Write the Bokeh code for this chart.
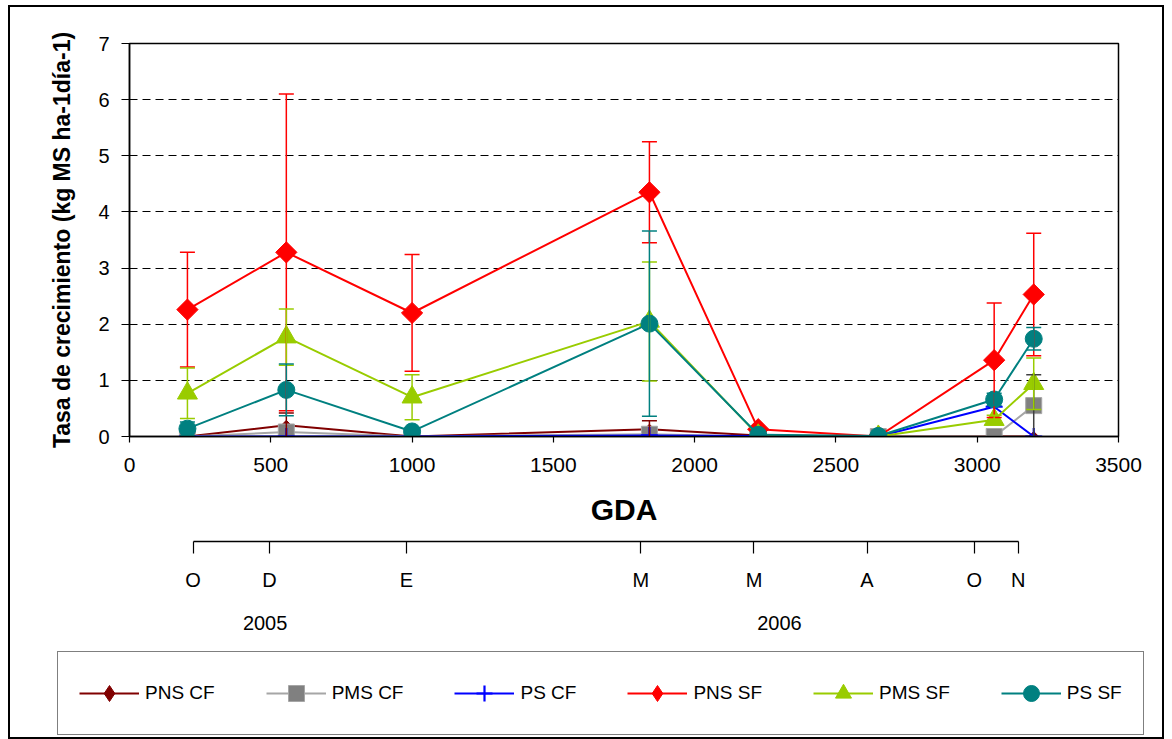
import numpy as np
from bokeh.plotting import figure
from bokeh.layouts import column
from bokeh.models import (Range1d, FixedTicker, LinearAxis, Legend, LegendItem,
                          Whisker, TeeHead, ColumnDataSource)
from bokeh.embed import file_html
from bokeh.resources import INLINE

# ---------------- data ----------------
gda = [205, 555, 1000, 1840, 2225, 2650, 3060, 3200]

pns_cf = [0.00, 0.20, 0.00, 0.13, 0.02, 0.00, 0.00, 0.00]
pns_cf_err = [0.00, 0.22, 0.00, 0.15, 0.00, 0.00, 0.00, 0.00]
pms_cf = [0.00, 0.08, 0.00, 0.04, 0.00, 0.00, 0.00, 0.55]
pms_cf_err = [0.00, 0.00, 0.00, 0.00, 0.00, 0.00, 0.00, 0.55]
ps_cf = [0.00, 0.00, 0.00, 0.02, 0.01, 0.00, 0.53, 0.00]
ps_cf_err = [0.00, 0.00, 0.00, 0.00, 0.00, 0.00, 0.00, 0.00]
pns_sf = [2.26, 3.28, 2.20, 4.35, 0.13, 0.00, 1.36, 2.53]
pns_sf_err = [1.02, 2.82, 1.04, 0.90, 0.00, 0.00, 1.02, 1.09]
pms_sf = [0.77, 1.77, 0.70, 2.05, 0.02, 0.00, 0.30, 0.94]
pms_sf_err = [0.45, 0.50, 0.40, 1.06, 0.00, 0.00, 0.08, 0.46]
ps_sf = [0.14, 0.83, 0.09, 2.01, 0.03, 0.01, 0.66, 1.74]
ps_sf_err = [0.12, 0.46, 0.05, 1.65, 0.00, 0.00, 0.11, 0.20]

x_ticks = [0, 500, 1000, 1500, 2000, 2500, 3000, 3500]
y_ticks = [0, 1, 2, 3, 4, 5, 6, 7]

month_gda = [225, 495, 980, 1810, 2210, 2610, 2990, 3145]
month_labels = ["O", "D", "E", "M", "M", "A", "O", "N"]
year_gda = [480, 2300]
year_labels = ["2005", "2006"]

FONT = "Liberation Sans"
W = 1152
ML, MR = 119, 44

xr = Range1d(0, 3500)

# ---------------- main plot ----------------
p = figure(width=W, height=523, output_backend="svg", toolbar_location=None,
           x_range=xr, y_range=Range1d(0, 7),
           min_border_left=ML, min_border_right=MR, min_border_top=36,
           min_border_bottom=94, background_fill_color="white",
           border_fill_color="white")
p.outline_line_color = "black"
p.outline_line_width = 1.5

p.xaxis.ticker = FixedTicker(ticks=x_ticks)
p.yaxis.ticker = FixedTicker(ticks=y_ticks)
for ax in (p.xaxis[0], p.yaxis[0]):
    ax.axis_line_color = "black"
    ax.axis_line_width = 1.5
    ax.major_tick_line_color = "black"
    ax.major_tick_line_width = 1.2
    ax.major_tick_in = 0
    ax.minor_tick_line_color = None
    ax.major_label_text_font = FONT
    ax.major_label_text_color = "black"
    ax.axis_label_text_font = FONT
    ax.axis_label_text_font_style = "bold"
    ax.axis_label_text_color = "black"
p.xaxis.major_label_text_font_size = "21px"
p.yaxis.major_label_text_font_size = "20px"
p.xaxis.major_tick_out = 6
p.xaxis.major_label_standoff = 15
p.xaxis.axis_label = "GDA"
p.xaxis.axis_label_text_font_size = "30px"
p.xaxis.axis_label_standoff = 18
p.yaxis.major_tick_out = 8
p.yaxis.major_label_standoff = 12
p.yaxis.axis_label = "Tasa de crecimiento (kg MS ha-1día-1)"
p.yaxis.axis_label_text_font_size = "23px"
p.yaxis.axis_label_standoff = 20

p.xgrid.grid_line_color = None
p.ygrid.grid_line_color = "black"
p.ygrid.grid_line_dash = "8 5"
p.ygrid.grid_line_width = 1

# name, values, errors, line colour, marker fill, marker line, marker, size, angle, legend marker
series = [
    ("PNS CF", pns_cf, pns_cf_err, "#800000", "#800000", "#800000", "square", 7, np.pi / 4, "diamond"),
    ("PMS CF", pms_cf, pms_cf_err, "#A6A6A6", "#808080", "#A6A6A6", "square", 16, 0, "square"),
    ("PS CF", ps_cf, ps_cf_err, "#0000FF", None, "#0000FF", "cross", 17, 0, "cross"),
    ("PNS SF", pns_sf, pns_sf_err, "#FF0000", "#FF0000", "#FF0000", "square", 15, np.pi / 4, "diamond"),
    ("PMS SF", pms_sf, pms_sf_err, "#99CC00", "#99CC00", "#99CC00", "triangle", 20, 0, "triangle"),
    ("PS SF", ps_sf, ps_sf_err, "#008080", "#008080", "#008080", "circle", 17, 0, "circle"),
]

# ---------------- month / year axis strip ----------------
pm = figure(width=W, height=104, output_backend="svg", toolbar_location=None,
            x_range=xr, y_range=Range1d(0, 1), y_axis_location=None,
            min_border_left=ML, min_border_right=MR, min_border_top=0,
            min_border_bottom=93, background_fill_color=None,
            border_fill_color="white")
pm.outline_line_color = None
pm.grid.grid_line_color = None
mx = pm.xaxis[0]
mx.ticker = FixedTicker(ticks=month_gda)
mx.major_label_overrides = {m: l for m, l in zip(month_gda, month_labels)}
mx.bounds = (month_gda[0], month_gda[-1])
mx.axis_line_color = "black"
mx.axis_line_width = 1.5
mx.major_tick_out = 12
mx.major_tick_in = 0
mx.major_tick_line_width = 1.2
mx.minor_tick_line_color = None
mx.major_label_standoff = 15
mx.major_label_text_font = FONT
mx.major_label_text_font_size = "20px"
mx.major_label_text_color = "black"

year_axis = LinearAxis(ticker=FixedTicker(ticks=year_gda),
                       major_label_overrides={m: l for m, l in zip(year_gda, year_labels)},
                       axis_line_color=None, major_tick_out=0, major_tick_in=0,
                       major_tick_line_color=None, minor_tick_line_color=None,
                       major_label_standoff=22, major_label_text_font=FONT,
                       major_label_text_font_size="20px", major_label_text_color="black")
pm.add_layout(year_axis, "below")

# ---------------- legend strip (its frame fills the strip; data lie out of view) ----------------
pl = figure(width=W, height=103, output_backend="svg", toolbar_location=None,
            x_range=Range1d(-20000, -10000), y_range=Range1d(-20, -10),
            x_axis_location=None, y_axis_location=None,
            min_border=0, min_border_left=0, min_border_right=0,
            min_border_top=0, min_border_bottom=0,
            background_fill_color="white", border_fill_color="white")
pl.frame_align = False
pl.outline_line_color = None
pl.grid.grid_line_color = None

items = []
for name, vals, errs, lcol, mfill, mline, marker, size, angle, lmarker in series:
    xs = [x for x, e in zip(gda, errs) if e > 0]
    ys = [v for v, e in zip(vals, errs) if e > 0]
    es = [e for e in errs if e > 0]
    ecol = lcol if name != "PMS CF" else "#404040"
    if xs:
        wsrc = ColumnDataSource(dict(x=xs, upper=[y + e for y, e in zip(ys, es)],
                                     lower=[y - e for y, e in zip(ys, es)]))
        w = Whisker(source=wsrc, base="x", upper="upper", lower="lower",
                    line_color=ecol, line_width=1.5,
                    upper_head=TeeHead(size=15, line_color=ecol, line_width=1.5),
                    lower_head=TeeHead(size=15, line_color=ecol, line_width=1.5),
                    level="glyph")
        p.add_layout(w)
    src = ColumnDataSource(dict(x=gda, y=vals))
    p.line("x", "y", source=src, line_color=lcol, line_width=2)
    p.scatter("x", "y", source=src, marker=marker, size=size, angle=angle,
              fill_color=mfill, line_color=mline,
              line_width=2.2 if marker == "cross" else 1)
    # legend samples: same series and styles, drawn in a strip whose ranges hide them
    lr = pl.line("x", "y", source=src, line_color=lcol, line_width=2)
    sr = pl.scatter("x", "y", source=src, marker=lmarker, size=size,
                    fill_color=mfill, line_color=mline,
                    line_width=2.2 if marker == "cross" else 1)
    items.append(LegendItem(label=name, renderers=[lr, sr]))

legend = Legend(items=items, orientation="horizontal", location=(47, 2),
                glyph_width=60, glyph_height=40, label_standoff=6, spacing=51,
                padding=21, margin=0, border_line_color="black", border_line_width=1,
                label_text_font=FONT, label_text_font_size="19px",
                label_text_color="black", background_fill_color="white",
                background_fill_alpha=1)
pl.add_layout(legend, "center")

layout = column(p, pm, pl, spacing=0, margin=(5, 0, 0, 8),
                styles={"border": "2px solid black", "background-color": "white"})

open("out.html", "w").write(file_html(layout, INLINE))
